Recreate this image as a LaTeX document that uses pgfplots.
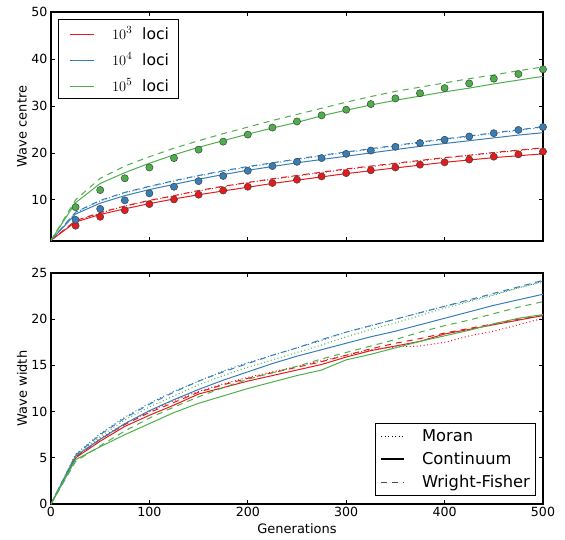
\documentclass[border=0pt]{standalone}
\usepackage{fontspec}
\setmainfont{DejaVu Sans}
\usepackage{pgfplots}
\usepackage{pgfplotstable}
\pgfplotsset{compat=1.18}
\definecolor{cred}{HTML}{E41A1C}
\definecolor{cblue}{HTML}{377EB8}
\definecolor{cgreen}{HTML}{4DAF4A}

\pgfplotstableread{
g   rs   rw   rm   bs   bw   bm   gs   gw
0   1.4  1.4  1.4  1.4  1.4  1.4  1.4  1.4
25  5.3  5.6  5.5  7.0  7.4  7.3  9.4  10.0
50  6.9  7.3  7.2  9.3  9.9  9.8  13.5 14.6
75  8.1  8.7  8.7  10.9 11.6 11.5 15.8 17.2
100 9.2  9.9  9.8  12.2 12.9 12.8 17.8 19.2
125 10.2 10.9 10.9 13.3 14.1 14.0 19.6 21.0
150 11.1 12.0 11.9 14.4 15.2 15.1 21.2 22.6
175 11.9 12.9 12.8 15.4 16.2 16.1 22.6 24.1
200 12.7 13.7 13.7 16.3 17.1 17.0 24.0 25.5
225 13.5 14.5 14.4 17.1 17.9 17.8 25.3 26.9
250 14.2 15.2 15.1 17.9 18.7 18.6 26.5 28.2
275 14.9 15.9 15.8 18.6 19.5 19.4 27.9 29.5
300 15.6 16.6 16.5 19.3 20.2 20.1 29.1 30.8
325 16.2 17.2 17.1 20.0 20.9 20.8 30.2 32.0
350 16.8 17.8 17.7 20.7 21.6 21.5 31.2 33.1
375 17.4 18.4 18.3 21.4 22.3 22.2 32.1 34.0
400 18.0 19.0 18.9 22.0 23.0 22.9 33.0 34.9
425 18.5 19.5 19.5 22.6 23.6 23.5 33.8 35.8
450 19.0 20.1 20.0 23.2 24.3 24.2 34.7 36.6
475 19.4 20.6 20.5 23.8 24.9 24.8 35.5 37.5
500 19.8 21.1 21.0 24.3 25.6 25.5 36.3 38.3
}\topdata

\pgfplotstableread{
g   rd   bd   gd
25  4.5  5.75 8.45
50  6.4  8.1  12.1
75  7.8  9.9  14.6
100 9.1  11.4 16.9
125 10.1 12.8 18.9
150 11.1 14.0 20.7
175 12.0 15.1 22.4
200 12.8 16.2 23.9
225 13.6 17.2 25.4
250 14.3 18.1 26.7
275 15.0 18.9 28.0
300 15.7 19.8 29.2
325 16.3 20.5 30.4
350 16.9 21.3 31.6
375 17.5 22.1 32.7
400 18.0 22.8 33.8
425 18.6 23.5 34.8
450 19.2 24.2 35.8
475 19.7 24.9 36.8
500 20.3 25.5 37.8
}\dotdata

\pgfplotstableread{
g   rs   rw   rm   bs   bw   bm   gs   gw   gm
0   0    0    0    0    0    0    0    0    0
25  5.0  5.1  5.1  5.2  5.3  5.4  4.8  4.6  5.2
50  6.8  7.0  7.1  7.0  7.5  7.6  6.2  6.3  7.3
75  8.4  8.6  8.7  8.7  9.3  9.4  7.5  7.9  9.1
100 9.6  9.9  10.0 10.1 10.8 10.9 8.7  9.3  10.5
125 10.7 11.0 11.2 11.3 12.1 12.2 9.9  10.5 11.7
150 11.9 12.1 12.2 12.4 13.3 13.3 10.9 11.6 12.9
175 12.6 12.9 13.0 13.4 14.3 14.4 11.7 12.6 13.9
200 13.3 13.6 13.7 14.3 15.2 15.3 12.5 13.5 14.8
225 13.9 14.2 14.3 15.2 16.1 16.1 13.2 14.2 15.6
250 14.5 14.8 14.9 16.0 16.9 16.9 13.9 14.9 16.4
275 15.1 15.4 15.5 16.7 17.8 17.7 14.5 15.7 17.2
300 15.9 16.1 16.1 17.4 18.6 18.6 15.6 16.4 18.1
325 16.6 16.8 16.7 18.1 19.3 19.3 16.2 17.1 18.9
350 17.1 17.4 17.0 18.7 20.0 20.0 16.9 17.8 19.6
375 17.6 17.9 17.1 19.4 20.7 20.7 17.6 18.6 20.4
400 18.4 18.5 17.5 20.1 21.4 21.4 18.2 19.3 21.2
425 18.9 19.0 18.2 20.8 22.1 22.0 18.8 19.9 21.9
450 19.4 19.5 18.7 21.5 22.8 22.7 19.5 20.6 22.6
475 19.9 20.0 19.4 22.1 23.5 23.4 20.1 21.3 23.4
500 20.4 20.4 20.1 22.7 24.2 24.1 20.5 21.9 24.0
}\botdata

\pgfplotsset{
  mystyle/.style={
    scale only axis, width=492pt, xmin=0, xmax=500,
    xtick={0,100,...,500},
    tick align=inside, major tick length=4pt,
    tick style={black, line width=0.8pt},
    axis line style={line width=1.4pt},
    every tick label/.append style={font=\fontsize{12.6}{15}\selectfont},
    /pgf/number format/assume math mode=true,
    label style={font=\fontsize{13}{15}\selectfont},
    ylabel style={at={(axis description cs:-0.059,0.5)}, anchor=center},
    legend cell align=left,
  },
  solidl/.style={line width=1pt},
  dashl/.style={line width=1pt, dash pattern=on 6pt off 5pt},
  dotl/.style={line width=1pt, dash pattern=on 1pt off 2.5pt},
}

\newcommand{\legline}[1]{\tikz[baseline=-4.5pt]\draw[#1, line width=1.5pt] (0pt,0pt) -- (24pt,0pt);}

\begin{document}
\begin{tikzpicture}[x=1pt,y=1pt]
\path[use as bounding box] (0,0) rectangle (565,539);

% top
\begin{axis}[mystyle, at={(51pt,298pt)}, anchor=south west, height=229pt,
  ymin=1.25, ymax=50, ytick={10,20,30,40,50}, xticklabels={},
  ylabel={Wave centre},
]
\addplot[cred, dotl] table[x=g, y=rm] {\topdata};
\addplot[cred, dashl] table[x=g, y=rw] {\topdata};
\addplot[cred, solidl] table[x=g, y=rs] {\topdata};
\addplot[cblue, dotl] table[x=g, y=bm] {\topdata};
\addplot[cblue, dashl] table[x=g, y=bw] {\topdata};
\addplot[cblue, solidl] table[x=g, y=bs] {\topdata};
\addplot[cgreen, dashl] table[x=g, y=gw] {\topdata};
\addplot[cgreen, solidl] table[x=g, y=gs] {\topdata};

\addplot[only marks, mark=*, mark size=3.6pt, mark options={fill=cred, draw=black!75, line width=0.5pt}] table[x=g, y=rd] {\dotdata};
\addplot[only marks, mark=*, mark size=3.6pt, mark options={fill=cblue, draw=black!75, line width=0.5pt}] table[x=g, y=bd] {\dotdata};
\addplot[only marks, mark=*, mark size=3.6pt, mark options={fill=cgreen, draw=black!75, line width=0.5pt}] table[x=g, y=gd] {\dotdata};

\node[draw=black, line width=0.8pt, fill=white, anchor=north west, inner sep=0pt,
  font=\fontsize{15.6}{18}\selectfont] at (axis description cs:0.0148,0.969) {%
  \begin{tabular}{@{\hspace{11pt}}l@{\hspace{17pt}}l@{\hspace{9pt}}}
  \rule{0pt}{19.6pt}\legline{cred} & $10^3$\ \ loci\\[8pt]
  \legline{cblue} & $10^4$\ \ loci\\[8pt]
  \rule[-7.4pt]{0pt}{7.4pt}\legline{cgreen} & $10^5$\ \ loci
  \end{tabular}};
\end{axis}

% bottom
\begin{axis}[mystyle, at={(51pt,35pt)}, anchor=south west, height=231pt,
  ymin=0, ymax=25, ytick={0,5,...,25},
  xlabel={Generations},
  xlabel style={at={(axis description cs:0.5,-0.108)}, anchor=center},
  ylabel={Wave width},
  legend image code/.code={\path[draw=none] (-3pt,0pt) -- (39pt,0pt);
    \begin{scope}[#1]\draw (0pt,0pt) -- (23pt,0pt);\end{scope}},
  legend style={at={(axis description cs:0.984,0.036)}, anchor=south east,
    font=\fontsize{16.3}{19}\selectfont,
    row sep=5pt, inner xsep=3pt, inner ysep=4.5pt},
]
\addlegendimage{black, line width=0.8pt, dash pattern=on 1pt off 2.5pt}\addlegendentry{Moran}
\addlegendimage{black, line width=2pt}\addlegendentry{Continuum}
\addlegendimage{black!70, line width=1pt, dash pattern=on 6pt off 5pt}\addlegendentry{Wright-Fisher}

\addplot[cred, dotl, forget plot] table[x=g, y=rm] {\botdata};
\addplot[cred, dashl, forget plot] table[x=g, y=rw] {\botdata};
\addplot[cred, solidl, forget plot] table[x=g, y=rs] {\botdata};
\addplot[cblue, dotl, forget plot] table[x=g, y=bm] {\botdata};
\addplot[cblue, dashl, forget plot] table[x=g, y=bw] {\botdata};
\addplot[cblue, solidl, forget plot] table[x=g, y=bs] {\botdata};
\addplot[cgreen, dotl, forget plot] table[x=g, y=gm] {\botdata};
\addplot[cgreen, dashl, forget plot] table[x=g, y=gw] {\botdata};
\addplot[cgreen, solidl, forget plot] table[x=g, y=gs] {\botdata};
\end{axis}
\end{tikzpicture}
\end{document}
